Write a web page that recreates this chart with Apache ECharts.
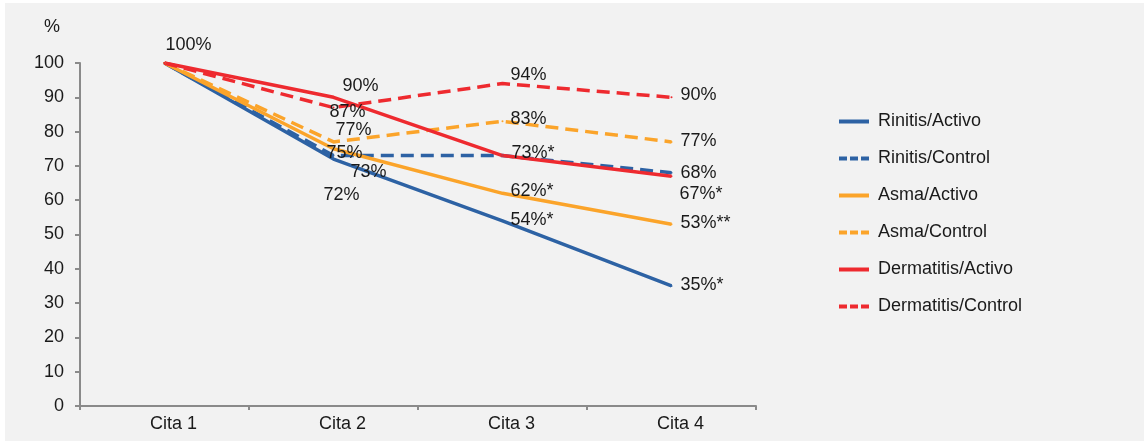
<!DOCTYPE html>
<html>
<head>
<meta charset="utf-8">
<script src="https://cdn.jsdelivr.net/npm/echarts@6/dist/echarts.min.js"></script>
<style>
html,body{margin:0;padding:0;background:#fff;}
#c{width:1144px;height:441px;}
</style>
</head>
<body>
<div id="c"></div>
<script>
const categories = ['Cita 1', 'Cita 2', 'Cita 3', 'Cita 4'];
const seriesNames = ['Rinitis/Activo', 'Rinitis/Control', 'Asma/Activo', 'Asma/Control', 'Dermatitis/Activo', 'Dermatitis/Control'];

const rinitisActivo = [100, 72, 54, 35];
const rinitisControl = [100, 73, 73, 68];
const asmaActivo = [100, 75, 62, 53];
const asmaControl = [100, 77, 83, 77];
const dermatitisActivo = [100, 90, 73, 67];
const dermatitisControl = [100, 87, 94, 90];

const rinitisActivoLabels = ['', '72%', '54%*', '35%*'];
const rinitisControlLabels = ['', '73%', '', '68%'];
const asmaActivoLabels = ['', '75%', '62%*', '53%**'];
const asmaControlLabels = ['', '77%', '83%', '77%'];
const dermatitisActivoLabels = ['100%', '90%', '73%*', '67%*'];
const dermatitisControlLabels = ['', '87%', '94%', '90%'];

const yTicks = [0, 10, 20, 30, 40, 50, 60, 70, 80, 90, 100];

// label layout (offsets from point, left-aligned text)
const labelOffsets = [
  [[0, 0], [-10, 36], [8, -1], [9, -1]],
  [[0, 0], [17, 16], [0, 0], [9, 0]],
  [[0, 0], [-7, 4], [8, -2], [9, -1]],
  [[0, 0], [2, -12], [8, -2], [9, -1]],
  [[1, -18], [9, -11], [9, -3], [8, 18]],
  [[0, 0], [-4, 4], [8, -9], [9, -2]]
];

const values = [rinitisActivo, rinitisControl, asmaActivo, asmaControl, dermatitisActivo, dermatitisControl];
const labels = [rinitisActivoLabels, rinitisControlLabels, asmaActivoLabels, asmaControlLabels, dermatitisActivoLabels, dermatitisControlLabels];
const colors = ['#2d62a4', '#2d62a4', '#fba42a', '#fba42a', '#ee2a2f', '#ee2a2f'];
const dashed = [false, true, false, true, false, true];

const FONT = '"Liberation Sans Narrow", "Arial Narrow", "Liberation Sans", Arial, sans-serif';
const FS = 18;

const series = values.map((vals, si) => ({
  name: seriesNames[si],
  type: 'line',
  symbol: 'circle',
  symbolSize: 2,
  showSymbol: true,
  animation: false,
  color: colors[si],
  itemStyle: { color: colors[si] },
  lineStyle: { width: 3.5, color: colors[si], type: dashed[si] ? [13, 7] : 'solid' },
  emphasis: { disabled: true },
  data: vals.map((v, i) => ({
    value: v,
    label: {
      show: labels[si][i] !== '',
      formatter: labels[si][i],
      position: 'inside',
      align: 'left',
      verticalAlign: 'middle',
      offset: labelOffsets[si][i],
      fontFamily: FONT,
      fontSize: FS,
      color: '#1a1a1a'
    }
  }))
}));

const chart = echarts.init(document.getElementById('c'), null, { renderer: 'canvas' });
chart.setOption({
  backgroundColor: '#ffffff',
  animation: false,
  graphic: [
    { type: 'rect', left: 5, top: 3, shape: { width: 1139, height: 438 }, style: { fill: '#f2f2f2' }, z: -10 },
    { type: 'text', left: 44, top: 18, style: { text: '%', fontFamily: FONT, fontSize: FS, fill: '#1a1a1a' } }
  ],
  grid: { left: 80, right: 388, top: 63, bottom: 35, containLabel: false },
  xAxis: {
    type: 'category',
    data: categories,
    boundaryGap: true,
    axisLine: { lineStyle: { color: '#8a8a8a', width: 2 } },
    axisTick: { show: true, length: 4, lineStyle: { color: '#8a8a8a', width: 2 } },
    axisLabel: { fontFamily: FONT, fontSize: FS, color: '#1a1a1a', margin: 9, padding: [0, 0, 0, 18] },
    splitLine: { show: false }
  },
  yAxis: {
    type: 'value',
    min: 0,
    max: 100,
    interval: 10,
    axisLine: { show: true, lineStyle: { color: '#8a8a8a', width: 2 } },
    axisTick: { show: true, length: 5, lineStyle: { color: '#8a8a8a', width: 2 } },
    axisLabel: {
      fontFamily: FONT, fontSize: FS, color: '#1a1a1a', margin: 16,
      formatter: v => (yTicks.indexOf(v) >= 0 ? String(v) : '')
    },
    splitLine: { show: false }
  },
  legend: {
    orient: 'vertical',
    left: 832,
    top: 105,
    itemWidth: 30,
    itemHeight: 14,
    itemGap: 14,
    itemStyle: { opacity: 0 },
    textStyle: { fontFamily: FONT, fontSize: FS, color: '#1a1a1a', padding: [0, 0, 0, 4], lineHeight: 23 },
    data: seriesNames.map((n, i) => ({
      name: n,
      lineStyle: { width: 4, color: colors[i], type: dashed[i] ? [8, 3] : 'solid' }
    }))
  },
  tooltip: { show: false },
  series: series
});
</script>
</body>
</html>
